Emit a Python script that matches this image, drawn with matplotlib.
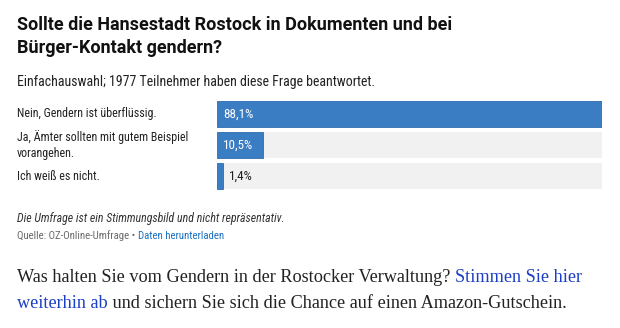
import matplotlib
matplotlib.use("Agg")
import matplotlib.pyplot as plt
from matplotlib.transforms import blended_transform_factory

answers = ["Nein, Gendern ist überflüssig.",
           "Ja, Ämter sollten mit gutem Beispiel\nvorangehen.",
           "Ich weiß es nicht."]
shares = [88.1, 10.5, 1.4]
value_labels = ["88,1%", "10,5%", "1,4%"]

title_lines = ["Sollte die Hansestadt Rostock in Dokumenten und bei",
               "Bürger-Kontakt gendern?"]
subtitle = "Einfachauswahl; 1977 Teilnehmer haben diese Frage beantwortet."
note = "Die Umfrage ist ein Stimmungsbild und nicht repräsentativ."
source = "Quelle: OZ-Online-Umfrage \u2022 "
download = "Daten herunterladen"
para = [[("Was halten Sie vom Gendern in der Rostocker Verwaltung? ", "#222222"),
         ("Stimmen Sie hier", "#1a3fc4")],
        [("weiterhin ab", "#1a3fc4"),
         (" und sichern Sie sich die Chance auf einen Amazon-Gutschein.", "#222222")]]

W, H = 620, 328
BLUE = "#3a7dc2"
EDGE = "#2f6cb0"
TRACK = "#f1f1f1"
SANS = ["Roboto Condensed", "Archivo Narrow", "Roboto"]
SERIF = ["Liberation Serif", "DejaVu Serif"]
BOOST = 1.07  # reference text is a little taller than a pure width fit gives

fig = plt.figure(figsize=(W / 100, H / 100), dpi=100)
fig.patch.set_facecolor("white")
r = fig.canvas.get_renderer()


def fy(px):
    return 1 - px / H


def fx(px):
    return px / W


def fit(t, width_px, boost=1.0):
    # scale a text so that it spans the width seen in the reference
    t.set_fontsize(10)
    w = t.get_window_extent(r).width
    t.set_fontsize(10 * width_px / w * boost)
    return t.get_fontsize()


# title + subtitle
for i, (line, base) in enumerate(zip(title_lines, [30, 53])):
    t = fig.text(fx(17), fy(base), line, family="Roboto", weight="bold",
                 color="#111111", va="baseline")
    if i == 0:
        title_size = fit(t, 436)
    else:
        t.set_fontsize(title_size)
t = fig.text(fx(17), fy(86), subtitle, family=SANS, color="#222222",
             va="baseline")
fit(t, 335, BOOST)

# bars
ax = fig.add_axes([fx(217), fy(190), fx(602 - 217), (190 - 100) / H])
ypos = range(len(shares))
top = max(shares)
ax.barh(ypos, [top] * len(shares), height=0.84, color=TRACK, zorder=1)
ax.barh(ypos, shares, height=0.84, color=BLUE, edgecolor=EDGE,
        linewidth=0.6, zorder=2)
ax.set_xlim(0, top)
ax.set_ylim(len(shares) - 1 + 0.45, -0.45)
ax.axis("off")

probe = fig.text(0, 0, answers[0], family=SANS)
lab_size = fit(probe, 130, BOOST)
probe.remove()
probe = fig.text(0, 0, value_labels[0], family=SANS)
val_size = fit(probe, 30)
probe.remove()

lab_tr = blended_transform_factory(fig.transFigure, ax.transData)
for i, (ans, v, lbl) in enumerate(zip(answers, shares, value_labels)):
    ax.text(fx(17), i, ans, transform=lab_tr, family=SANS, fontsize=lab_size,
            color="#222222", va="center", ha="left", linespacing=1.25)
    if v / top > 0.08:
        ax.text(1.4, i, lbl, family=SANS, fontsize=val_size,
                color="white", va="center", ha="left", zorder=3)
    else:
        ax.text(v + 1.4, i, lbl, family=SANS, fontsize=val_size,
                color="#222222", va="center", ha="left", zorder=3)

# footer
t = fig.text(fx(17), fy(222), note, family=SANS, style="italic",
             color="#333333", va="baseline")
fit(t, 251, BOOST)
t = fig.text(fx(17), fy(239), source, family=SANS, color="#6a6a6a",
             va="baseline")
src_size = fit(t, 112, BOOST)
bb = t.get_window_extent(r)
fig.text(bb.x1 / W, fy(239), download, family=SANS, fontsize=src_size,
         color="#1b6ec2", va="baseline")

# paragraph below the chart
probe = fig.text(0, 0, "".join(p[0] for p in para[0]), family=SERIF)
para_size = fit(probe, 568)
probe.remove()
for parts, base in zip(para, [282, 308]):
    x = 17
    for txt, col in parts:
        t = fig.text(fx(x), fy(base), txt, family=SERIF, fontsize=para_size,
                     color=col, va="baseline")
        x = t.get_window_extent(r).x1

fig.savefig("out.png", dpi=100, facecolor="white")
